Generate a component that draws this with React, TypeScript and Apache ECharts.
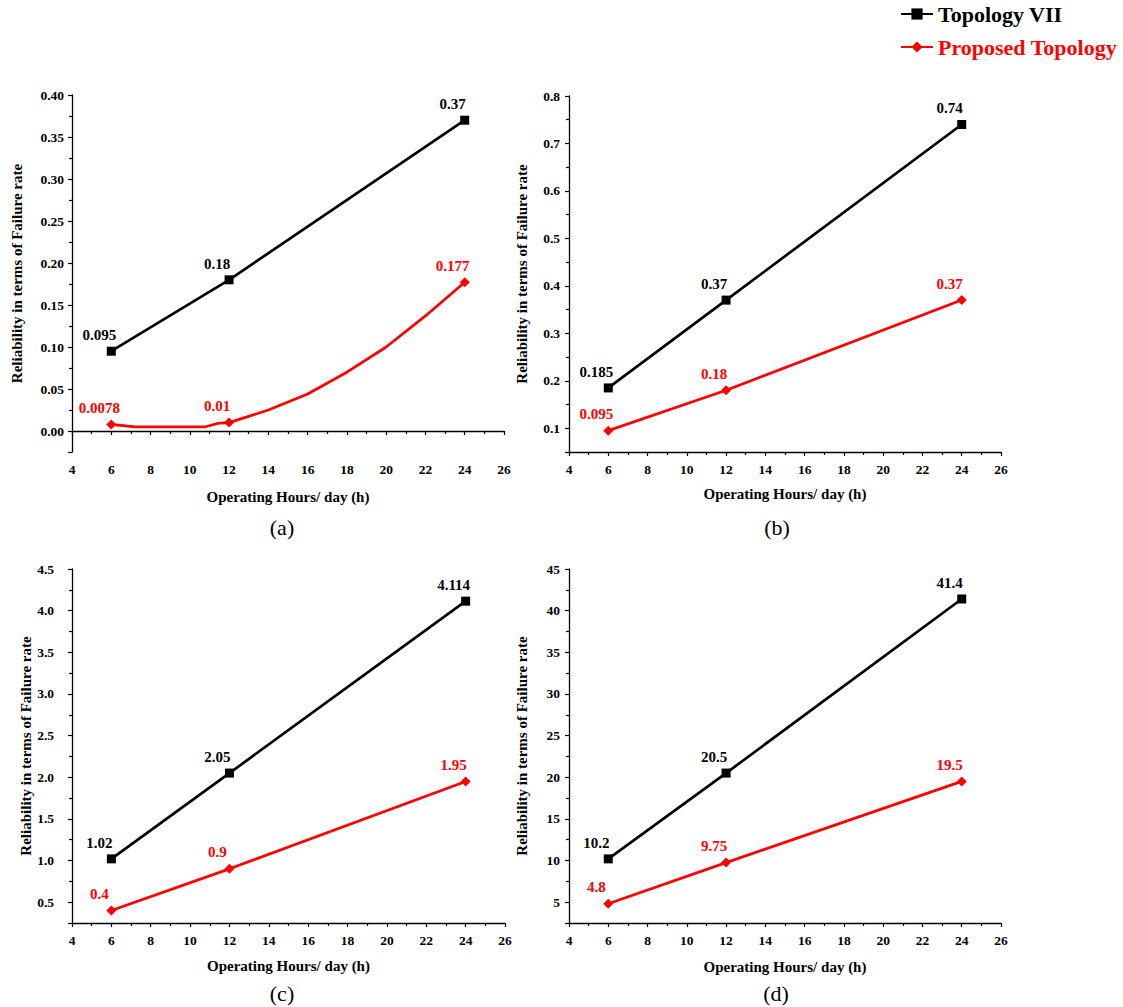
import React, { useEffect, useRef } from 'react';
import * as echarts from 'echarts';

// ---------- data ----------
const hours = [6, 12, 24];
const xRange = [4, 26];
const xStep = 2;

// (a)
const topologyA = [0.095, 0.18, 0.37];
const proposedA = [0.0078, 0.01, 0.177];
// points traced along the curved red line of panel (a) (no markers there)
const proposedACurveHours = [7.2, 10.8, 11.4, 14, 16, 18, 20, 22];
const proposedACurveValues = [0.005, 0.005, 0.009, 0.025, 0.044, 0.07, 0.1, 0.137];
const yRangeA = [-0.025, 0.4];
// (b)
const topologyB = [0.185, 0.37, 0.74];
const proposedB = [0.095, 0.18, 0.37];
const yRangeB = [0.05, 0.8];
// (c)
const topologyC = [1.02, 2.05, 4.114];
const proposedC = [0.4, 0.9, 1.95];
const yRangeC = [0.25, 4.5];
// (d)
const topologyD = [10.2, 20.5, 41.4];
const proposedD = [4.8, 9.75, 19.5];
const yRangeD = [2.5, 45];

const yStepAll = [0.05, 0.1, 0.5, 5];
const yDecimals = [2, 1, 1, 0];
const panelTags = ['(a)', '(b)', '(c)', '(d)'];
const seriesNames = ['Topology VII', 'Proposed Topology'];
const xName = 'Operating Hours/ day (h)';
const yName = 'Reliability in terms of Failure rate';

// ---------- style ----------
const SERIF = "'Liberation Serif', 'Times New Roman', serif";
const BLACK = '#000000';
const RED = '#ff0000';

const grids = [
  { left: 72, top: 95, width: 432, height: 357 },
  { left: 569, top: 96, width: 432, height: 356 },
  { left: 72, top: 569, width: 433, height: 354 },
  { left: 569, top: 569, width: 432, height: 354 },
];
const yNameGaps = [48, 40, 36, 40];
const yLabelMargins = [8, 9, 18, 9];
const xNameGaps = [37, 34, 35, 36];
const tagPos = [
  [282, 527],
  [777, 527],
  [282, 993],
  [776, 993],
];

const isMultiple = (v: number, step: number) =>
  Math.abs(v / step - Math.round(v / step)) < 1e-6;

function pairs(xs: number[], ys: number[]) {
  return xs.map((x, i) => ({ value: [x, ys[i]] }));
}

function lineSeries(name: string, color: string, symbol: string, data: any[], idx: number) {
  return {
    type: 'line',
    name,
    xAxisIndex: idx,
    yAxisIndex: idx,
    data,
    symbol,
    symbolSize: symbol === 'rect' ? 9 : 10,
    showAllSymbol: true,
    lineStyle: { color, width: 2.7 },
    itemStyle: { color },
    label: {
      show: true,
      position: 'top',
      distance: 4,
      offset: [-12, 0],
      color,
      fontFamily: SERIF,
      fontSize: 15,
      fontWeight: 'bold',
      formatter: (p: any) => String(p.value[1]),
    },
    emphasis: { disabled: true },
  };
}

function xAxis(idx: number) {
  return {
    type: 'value',
    gridIndex: idx,
    min: xRange[0],
    max: xRange[1],
    interval: xStep,
    name: xName,
    nameLocation: 'middle',
    nameGap: xNameGaps[idx],
    nameTextStyle: {
      fontFamily: SERIF,
      fontSize: 15,
      fontWeight: 'bold',
      color: BLACK,
      verticalAlign: 'top',
    },
    axisLine: { show: true, lineStyle: { color: BLACK, width: 1.3 } },
    axisTick: { show: true, length: 4, lineStyle: { color: BLACK, width: 1.2 } },
    minorTick: { show: true, splitNumber: 2, length: 3, lineStyle: { color: BLACK, width: 1.2 } },
    splitLine: { show: false },
    axisLabel: {
      margin: 10,
      fontFamily: SERIF,
      fontSize: 13.5,
      fontWeight: 'bold',
      color: BLACK,
    },
  };
}

function yAxis(idx: number, range: number[]) {
  const step = yStepAll[idx];
  return {
    type: 'value',
    gridIndex: idx,
    min: range[0],
    max: range[1],
    splitNumber: 8,
    minInterval: step,
    maxInterval: step,
    name: yName,
    nameLocation: 'middle',
    nameGap: yNameGaps[idx],
    nameTextStyle: {
      fontFamily: SERIF,
      fontSize: 15,
      fontWeight: 'bold',
      color: BLACK,
    },
    axisLine: { show: true, lineStyle: { color: BLACK, width: 1.3 } },
    axisTick: { show: true, length: 4, lineStyle: { color: BLACK, width: 1.2 } },
    minorTick: { show: true, splitNumber: 2, length: 3, lineStyle: { color: BLACK, width: 1.2 } },
    splitLine: { show: false },
    axisLabel: {
      margin: yLabelMargins[idx],
      fontFamily: SERIF,
      fontSize: 13.5,
      fontWeight: 'bold',
      color: BLACK,
      formatter: (v: number) => (isMultiple(v, step) ? v.toFixed(yDecimals[idx]) : ''),
    },
  };
}

export default function App() {
  const ref = useRef<HTMLDivElement>(null);

  useEffect(() => {
    if (!ref.current) return;
    const chart = echarts.init(ref.current, undefined, { renderer: 'svg' });

    const redA = [
      ...pairs(hours, proposedA),
      ...proposedACurveHours.map((h, i) => ({
        value: [h, proposedACurveValues[i]],
        symbol: 'none',
        label: { show: false },
      })),
    ].sort((a, b) => a.value[0] - b.value[0]);

    const tops = [topologyA, topologyB, topologyC, topologyD];
    const props = [null, proposedB, proposedC, proposedD];
    const ranges = [yRangeA, yRangeB, yRangeC, yRangeD];

    const series: any[] = [];
    for (let i = 0; i < 4; i++) {
      series.push(lineSeries(seriesNames[0], BLACK, 'rect', pairs(hours, tops[i]), i));
      series.push(
        lineSeries(
          seriesNames[1],
          RED,
          'diamond',
          i === 0 ? redA : pairs(hours, props[i] as number[]),
          i
        )
      );
    }

    const option: any = {
      animation: false,
      backgroundColor: '#ffffff',
      grid: grids.map((g) => ({ ...g, containLabel: false })),
      xAxis: [0, 1, 2, 3].map((i) => xAxis(i)),
      yAxis: ranges.map((r, i) => yAxis(i, r)),
      legend: {
        orient: 'vertical',
        left: 900,
        top: 3,
        padding: 0,
        itemWidth: 32,
        itemHeight: 14,
        itemGap: 11,
        selectedMode: false,
        textStyle: { fontFamily: SERIF, fontSize: 22, fontWeight: 'bold' },
        data: [
          { name: seriesNames[0], textStyle: { color: BLACK } },
          { name: seriesNames[1], textStyle: { color: RED } },
        ],
      },
      graphic: panelTags.map((t, i) => ({
        type: 'text',
        x: tagPos[i][0],
        y: tagPos[i][1],
        style: {
          text: t,
          fontFamily: SERIF,
          fontSize: 22,
          fill: BLACK,
          align: 'center',
          verticalAlign: 'middle',
        },
      })),
      series,
    };

    chart.setOption(option);
    return () => chart.dispose();
  }, []);

  return (
    <div
      ref={ref}
      style={{ position: 'absolute', left: 0, top: 0, width: 1123, height: 1007, background: '#fff' }}
    />
  );
}
